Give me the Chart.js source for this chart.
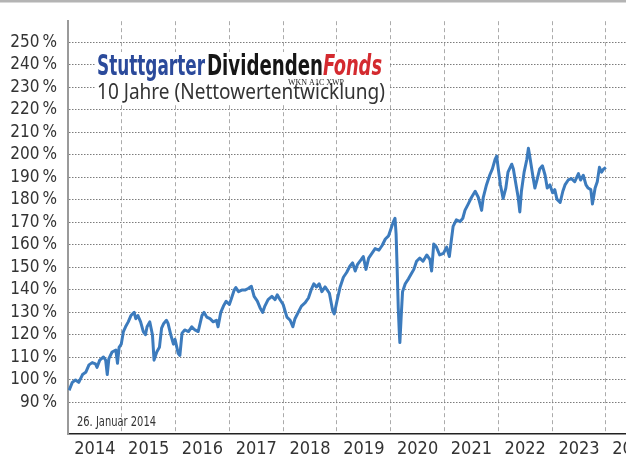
<!DOCTYPE html>
<html><head><meta charset="utf-8">
<script src="https://cdn.jsdelivr.net/npm/chart.js@4.4.0/dist/chart.umd.min.js"></script>
<style>
html,body{margin:0;padding:0;background:#fff;overflow:hidden;width:626px;height:458px;}
#wrap{position:absolute;left:0;top:0;width:700px;height:458px;}
</style></head><body>
<div id="wrap"><canvas id="c" width="700" height="458"></canvas></div>
<script>
// ---- data ----
const dates = [
2014.02,2014.08,2014.14,2014.20,2014.27,2014.33,2014.39,2014.45,2014.51,2014.54,2014.59,2014.66,2014.70,2014.73,2014.76,2014.82,2014.89,2014.92,2014.95,2014.99,
2015.03,2015.07,2015.12,2015.17,2015.23,2015.26,2015.30,2015.35,2015.40,2015.44,2015.47,2015.52,2015.57,2015.60,2015.65,2015.70,2015.74,2015.78,2015.83,2015.86,2015.91,2015.96,2015.99,
2016.05,2016.08,2016.12,2016.17,2016.24,2016.30,2016.36,2016.42,2016.49,2016.53,2016.58,2016.64,2016.70,2016.76,2016.79,2016.84,2016.89,2016.94,
2017.00,2017.04,2017.09,2017.12,2017.17,2017.23,2017.29,2017.35,2017.41,2017.46,2017.52,2017.57,2017.62,2017.66,2017.72,2017.79,2017.85,2017.89,2017.94,
2018.00,2018.07,2018.13,2018.18,2018.22,2018.28,2018.34,2018.41,2018.47,2018.53,2018.57,2018.62,2018.67,2018.72,2018.78,2018.86,2018.92,2018.95,
2019.00,2019.06,2019.12,2019.18,2019.24,2019.29,2019.34,2019.38,2019.45,2019.49,2019.54,2019.59,2019.65,2019.71,2019.78,2019.84,2019.90,2019.96,
2020.00,2020.05,2020.08,2020.10,2020.12,2020.14,2020.16,2020.17,2020.20,2020.22,2020.27,2020.33,2020.38,2020.43,2020.48,2020.54,2020.60,2020.67,2020.73,2020.76,2020.80,2020.85,2020.91,2020.98,
2021.04,2021.09,2021.13,2021.16,2021.22,2021.29,2021.34,2021.38,2021.44,2021.50,2021.57,2021.63,2021.69,2021.72,2021.78,2021.84,2021.89,2021.94,2021.97,
2022.00,2022.04,2022.09,2022.14,2022.18,2022.25,2022.28,2022.33,2022.37,2022.40,2022.43,2022.48,2022.53,2022.56,2022.59,2022.64,2022.68,2022.72,2022.77,2022.82,2022.87,2022.91,2022.96,
2023.01,2023.05,2023.09,2023.15,2023.20,2023.24,2023.30,2023.36,2023.42,2023.49,2023.53,2023.58,2023.63,2023.67,2023.72,2023.75,2023.80,2023.84,2023.88,2023.92,2023.96,2024.00
];
const values = [
95.4,98.9,100,98.9,102.4,103.4,106.7,107.7,107.1,105.6,108.8,110.2,108.8,102.4,109.5,112.4,113.3,107.4,114.5,115.9,
121.5,123.6,125.8,128.6,130,127.2,128.6,125.8,121.5,120.1,123.6,125.8,120.1,108.8,112.4,114.5,123,125.1,126.5,125.1,120.1,115.9,118,
111.7,110.9,120.8,122.2,121.5,123.6,122.2,121.5,128.6,130,127.9,127.2,125.8,126.5,123.6,130,132.8,134.9,
133.5,136.3,139.9,141,139.2,139.9,139.9,140.6,141.6,137.1,135,132.1,130,132.8,135.7,137.1,135.7,137.8,135.7,
133.5,127.9,126.5,123.6,127.2,130,132.8,134.3,136.4,140.6,142.7,141.3,142.7,139.2,141.3,138.5,130.8,129.3,
135,141.3,145.6,147.7,150.5,152,148.4,151.2,153.4,154.8,149.1,154.1,156.2,158.3,157.6,159.7,162.6,164,
166.8,170.3,171.8,164.7,149.1,132.1,120.8,116.6,130.7,139.2,142.7,144.9,147,149.1,152.7,154.1,152.7,155.5,153.4,148.4,160.4,159,155.5,156.2,
159,154.8,162.6,168.2,171.1,170.3,171.8,175.3,178.1,181,183.8,181,175.3,181,186.6,190.9,193.7,197.9,199.4,
193.7,186.6,180.6,185.2,192.3,195.8,193.7,186.6,181,174.6,183.8,192.3,197.9,202.9,198.6,190.9,185.2,188.8,193.7,195.1,190.9,185.2,186.6,
183.1,184.5,180.3,178.8,183.8,186.6,188.8,189.4,188,191.6,188.8,190.9,186.6,185.2,184.5,178.1,185.2,188,194.4,192.3,193.7,194.4
];
const yTickValues = [90,100,110,120,130,140,150,160,170,180,190,200,210,220,230,240,250];
const yearLabels = ['2014','2015','2016','2017','2018','2019','2020','2021','2022','2023','2024'];
const firstYear = 2014;
const titleParts = ['Stuttgarter','Dividenden','Fonds'];
const wknText = 'WKN A1C XWP';
const subtitleText = '10 Jahre (Nettowertentwicklung)';
const startNote = '26. Januar 2014';

// ---- styling ----
const NARROW = '"Liberation Sans Narrow", "DejaVu Sans Condensed", "Liberation Sans", sans-serif';

function fitText(ctx, text, x, baseline, width, font, color) {
  ctx.save();
  ctx.font = font; ctx.fillStyle = color;
  ctx.textBaseline = 'alphabetic'; ctx.textAlign = 'left';
  const w = ctx.measureText(text).width;
  ctx.translate(x, baseline);
  ctx.scale(width / w, 1);
  ctx.fillText(text, 0, 0);
  ctx.restore();
}

const overlay = {
  id: 'overlay',
  afterDraw(chart) {
    const ctx = chart.ctx;
    ctx.save();
    ctx.fillStyle = '#b4b4b4';
    ctx.fillRect(0, 0, chart.width, 2.5);
    ctx.fillStyle = '#ffffff';
    ctx.fillRect(95, 52, 294, 53);
    ctx.restore();
    fitText(ctx, titleParts[0], 97, 75, 108, 'bold 29px ' + NARROW, '#2b4a9b');
    fitText(ctx, titleParts[1], 207, 75, 116, 'bold 29px ' + NARROW, '#161616');
    fitText(ctx, titleParts[2], 323, 75, 59, 'italic bold 29px ' + NARROW, '#d42a2f');
    fitText(ctx, wknText, 288, 85, 56, '8px "Liberation Serif", serif', '#222');
    fitText(ctx, subtitleText, 97, 99, 288, '21px "Noto Sans", sans-serif', '#333');
    fitText(ctx, startNote, 77, 426, 79, '14px ' + NARROW, '#333');
  }
};

const points = dates.map((d, i) => ({x: d, y: values[i]}));

new Chart(document.getElementById('c').getContext('2d'), {
  type: 'line',
  data: { datasets: [{
    data: points, borderColor: '#3c7bbd', borderWidth: 3,
    pointRadius: 0, tension: 0, fill: false, borderJoinStyle: 'round'
  }]},
  options: {
    responsive: false, animation: false, events: [],
    layout: { padding: { top: 2, left: 0, right: 0, bottom: 0 } },
    plugins: { legend: { display: false }, tooltip: { enabled: false } },
    scales: {
      x: {
        type: 'linear', min: 2014, max: 2025.75,
        afterBuildTicks(s) {
          const t = [];
          yearLabels.forEach((l, i) => { t.push({value: firstYear + i}); t.push({value: firstYear + i + 0.5}); });
          t.push({value: firstYear + yearLabels.length});
          s.ticks = t;
        },
        afterFit(s) { s.height = 24; },
        ticks: {
          autoSkip: false, maxRotation: 0, minRotation: 0, padding: 5, color: '#333',
          font: { family: NARROW, size: 18 },
          callback: (v) => (v % 1 === 0.5 ? yearLabels[Math.floor(v) - firstYear] : '')
        },
        grid: {
          drawTicks: false, lineWidth: 1,
          color: (c) => (c.tick && c.tick.value % 1 === 0) ? '#ababab' : 'rgba(0,0,0,0)'
        },
        border: { display: true, color: '#222', width: 1.5, dash: [4, 3] }
      },
      y: {
        min: 76, max: 259.3,
        afterBuildTicks(s) { s.ticks = yTickValues.map(v => ({value: v})); },
        afterFit(s) { s.width = 68; },
        ticks: {
          autoSkip: false, padding: 11, color: '#333', font: { family: NARROW, size: 17 },
          callback: (v) => v + '\u2009%'
        },
        grid: { drawTicks: false, color: '#7c7c7c', lineWidth: 1 },
        border: { display: true, color: '#9a9a9a', width: 2, dash: [1.5, 1.5] }
      }
    }
  },
  plugins: [overlay]
});
</script>
</body></html>
